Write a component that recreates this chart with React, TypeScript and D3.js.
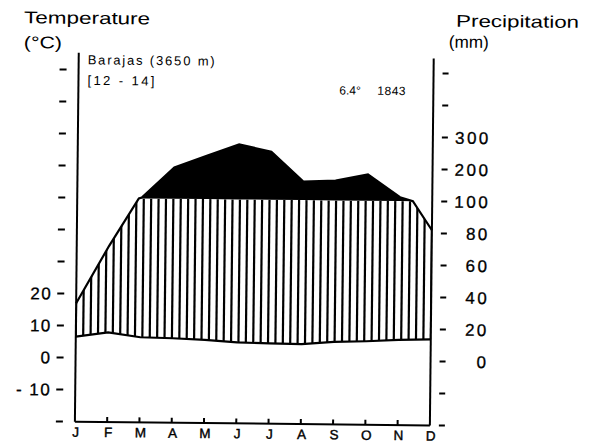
import React from 'react';
import * as d3 from 'd3';

const months = ['J', 'F', 'M', 'A', 'M', 'J', 'J', 'A', 'S', 'O', 'N', 'D'];
const temperature = [6.6, 8.0, 6.6, 6.4, 6.0, 5.3, 5.1, 5.0, 5.8, 6.1, 6.6, 6.9];
const precipitation = [34, 70, 103, 198, 235, 272, 250, 158, 162, 182, 112, 82];
const tempTicks = [-20, -10, 0, 10, 20, 30, 40, 50, 60, 70, 80, 90];
const tempLabels = [
  { t: 20, label: '20' },
  { t: 10, label: '10' },
  { t: 0, label: '0' },
  { t: -10, label: '- 10' },
];
const precipLabels = [
  { p: 300, label: '300' },
  { p: 200, label: '200' },
  { p: 100, label: '100' },
  { p: 80, label: '80' },
  { p: 60, label: '60' },
  { p: 40, label: '40' },
  { p: 20, label: '20' },
  { p: 0, label: '0' },
];
const station = 'Barajas (3650 m)';
const period = '[12 - 14]';
const meanTemp = '6.4°';
const annualPrecip = '1843';

const FONT = "'Liberation Sans', Arial, Helvetica, sans-serif";

type S = { i: number; p: number; t: number };

export default function App() {
  const x = d3.scaleLinear().domain([0, 11]).range([77, 432]);
  const yT = d3.scaleLinear().domain([-20, 90]).range([424, 72]);
  const yP = d3.scaleLinear().domain([0, 100, 500]).range([yT(0), yT(50), yT(90)]);

  const samples: S[] = [];
  for (let k = 0; k < 11; k++) {
    const p0 = precipitation[k], p1 = precipitation[k + 1];
    const t0 = temperature[k], t1 = temperature[k + 1];
    const fs = [0];
    if ((p0 - 100) * (p1 - 100) < 0) fs.push((100 - p0) / (p1 - p0));
    for (const f of fs) samples.push({ i: k + f, p: p0 + (p1 - p0) * f, t: t0 + (t1 - t0) * f });
  }
  samples.push({ i: 11, p: precipitation[11], t: temperature[11] });

  const humidArea = d3.area<S>()
    .x(d => x(d.i))
    .y0(d => yT(d.t))
    .y1(d => yP(Math.min(d.p, 100)))(samples) || '';
  const wetArea = d3.area<S>()
    .x(d => x(d.i))
    .y0(() => yP(100))
    .y1(d => yP(Math.max(d.p, 100)))(samples) || '';
  const precipLine = d3.line<S>().x(d => x(d.i)).y(d => yP(d.p))(samples) || '';
  const tempLine = d3.line<number>().x((_, i) => x(i)).y(d => yT(d))(temperature) || '';

  const hatchX = d3.range(49).map(i => 77 + (i * 355) / 48);

  return (
    <svg width={590} height={445} style={{ position: 'absolute', left: 0, top: 0, background: '#fff' }}
      fontFamily={FONT}>
      <rect x={0} y={0} width={590} height={445} fill="#fff" />
      <g transform="rotate(0.6 295 222)">
        <defs>
          <clipPath id="humidClip">
            <path d={humidArea} />
          </clipPath>
        </defs>
        {/* hatched humid period */}
        <g clipPath="url(#humidClip)">
          {hatchX.map((hx, i) => (
            <line key={i} x1={hx} x2={hx} y1={50} y2={430} stroke="#000" strokeWidth={2.2} />
          ))}
        </g>
        {/* perhumid black */}
        <path d={wetArea} fill="#000" stroke="none" />
        <path d={precipLine} fill="none" stroke="#000" strokeWidth={2.2} />
        <path d={tempLine} fill="none" stroke="#000" strokeWidth={2.2} />

        {/* axes */}
        <line x1={77} x2={77} y1={55} y2={424} stroke="#000" strokeWidth={2} />
        <line x1={432} x2={432} y1={57} y2={424} stroke="#000" strokeWidth={2} />
        <line x1={77} x2={432} y1={424} y2={424} stroke="#000" strokeWidth={2} />
        {months.map((m, i) => (
          <g key={i}>
            {i > 0 && i < 11 && (
              <line x1={x(i)} x2={x(i)} y1={419} y2={424} stroke="#000" strokeWidth={2} />
            )}
            <text x={x(i) + 1} y={439} fontSize={13.5} textAnchor="middle" fill="#000"
              stroke="#000" strokeWidth={0.4}>{m}</text>
          </g>
        ))}
        {tempTicks.map(t => (
          <g key={t}>
            <line x1={58} x2={65} y1={yT(t)} y2={yT(t)} stroke="#000" strokeWidth={2} />
            <line x1={441} x2={447} y1={yT(t)} y2={yT(t)} stroke="#000" strokeWidth={2} />
          </g>
        ))}
        {tempLabels.map(d => (
          <text key={d.t} x={53} y={yT(d.t) + 6} fontSize={17} textAnchor="end" fill="#000"
            letterSpacing={1.5} stroke="#000" strokeWidth={0.3}>{d.label}</text>
        ))}
        {precipLabels.map(d => (
          <text key={d.p} x={490} y={yP(d.p) + 6} fontSize={17} textAnchor="end" fill="#000"
            letterSpacing={2.5} stroke="#000" strokeWidth={0.3}>{d.label}</text>
        ))}

        {/* titles */}
        <text x={22} y={26} fontSize={17} textLength={126} lengthAdjust="spacingAndGlyphs" fill="#000">Temperature</text>
        <text x={22} y={51} fontSize={17} textLength={38} lengthAdjust="spacingAndGlyphs" fill="#000">(°C)</text>
        <text x={454} y={25} fontSize={17} textLength={123} lengthAdjust="spacingAndGlyphs" fill="#000">Precipitation</text>
        <text x={447} y={46} fontSize={17} textLength={40} lengthAdjust="spacingAndGlyphs" fill="#000">(mm)</text>

        <text x={86} y={66.5} fontSize={13} textLength={127} lengthAdjust="spacing" fill="#000">{station}</text>
        <text x={86} y={87} fontSize={13} textLength={67} lengthAdjust="spacing" fill="#000">{period}</text>
        <text x={338} y={94} fontSize={12} fill="#000">{meanTemp}</text>
        <text x={376} y={94} fontSize={12} fill="#000" letterSpacing={0.5}>{annualPrecip}</text>
      </g>
    </svg>
  );
}
